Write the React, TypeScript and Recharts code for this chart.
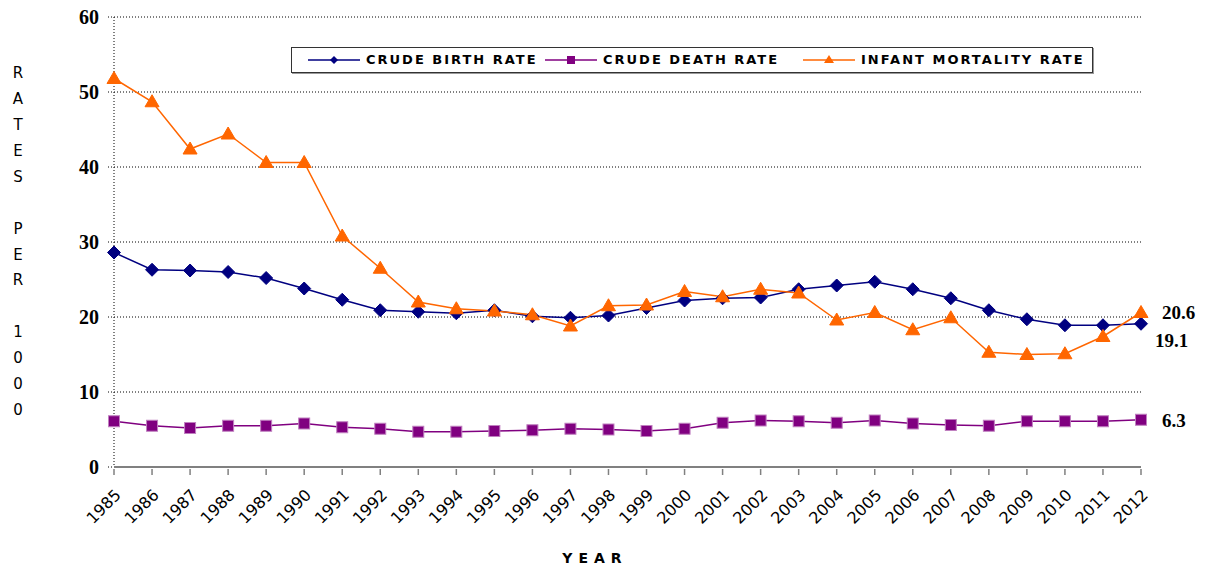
import React from "react";
import { LineChart, Line, XAxis, YAxis, CartesianGrid, LabelList } from "recharts";

const years = ["1985","1986","1987","1988","1989","1990","1991","1992","1993","1994","1995","1996","1997","1998","1999","2000","2001","2002","2003","2004","2005","2006","2007","2008","2009","2010","2011","2012"];
const birthRate = [28.6, 26.3, 26.2, 26.0, 25.2, 23.8, 22.3, 20.9, 20.7, 20.5, 20.9, 20.1, 19.9, 20.2, 21.2, 22.2, 22.5, 22.6, 23.7, 24.2, 24.7, 23.7, 22.5, 20.9, 19.7, 18.9, 18.9, 19.1];
const deathRate = [6.1, 5.5, 5.2, 5.5, 5.5, 5.8, 5.3, 5.1, 4.7, 4.7, 4.8, 4.9, 5.1, 5.0, 4.8, 5.1, 5.9, 6.2, 6.1, 5.9, 6.2, 5.8, 5.6, 5.5, 6.1, 6.1, 6.1, 6.3];
const infantMortality = [51.8, 48.7, 42.4, 44.4, 40.6, 40.6, 30.8, 26.5, 22.0, 21.1, 20.8, 20.3, 18.8, 21.5, 21.6, 23.4, 22.7, 23.7, 23.2, 19.6, 20.6, 18.3, 19.9, 15.3, 15.0, 15.1, 17.4, 20.6];
const yTicks = [0, 10, 20, 30, 40, 50, 60];
const yLabel = "RATES PER 1000";

const data = years.map((y, i) => ({
  year: y,
  birth: birthRate[i],
  death: deathRate[i],
  infant: infantMortality[i],
}));

const NAVY = "#000080";
const PURPLE = "#800080";
const ORANGE = "#FF6600";
const SANS = "'DejaVu Sans', Verdana, sans-serif";
const SERIF = "'Liberation Serif', 'Times New Roman', serif";

const Diamond = ({ cx, cy }: any) => (
  <polygon points={`${cx},${cy - 6.5} ${cx + 6.5},${cy} ${cx},${cy + 6.5} ${cx - 6.5},${cy}`} fill={NAVY} stroke={NAVY} />
);
const Square = ({ cx, cy }: any) => (
  <rect x={cx - 5.5} y={cy - 5.5} width={11} height={11} fill={PURPLE} stroke="#c080c0" strokeWidth={1} />
);
const Triangle = ({ cx, cy }: any) => (
  <polygon points={`${cx},${cy - 7} ${cx + 7},${cy + 5} ${cx - 7},${cy + 5}`} fill={ORANGE} stroke={ORANGE} />
);

const lastLabel = (dx: number, dy: number) => (props: any) => {
  const { x, y, value, index } = props;
  if (index !== years.length - 1) return null;
  return (
    <text x={x + dx} y={y + dy} dy="0.35em" fontFamily={SERIF} fontWeight="bold" fontSize={19} fill="#000">
      {value}
    </text>
  );
};

// y here is axis y + tickSize + tickMargin
const XTick = ({ x, y, payload }: any) => {
  const ax = x + 4;
  const ay = y + 15;
  return (
    <g>
      <line x1={x} y1={y - 8} x2={x} y2={y - 2} stroke="#808080" strokeWidth={1.5} />
      <text x={ax} y={ay} textAnchor="end" dy="0.35em" transform={`rotate(-45, ${ax}, ${ay})`} fontFamily={SANS} fontSize={16} fill="#000">
        {payload.value}
      </text>
    </g>
  );
};

const YTick = ({ x, y, payload }: any) => (
  <text x={x} y={y} textAnchor="end" dy="0.35em" fontFamily={SERIF} fontWeight="bold" fontSize={20} fill="#000">
    {payload.value}
  </text>
);

const legendItems = [
  { label: "CRUDE BIRTH RATE", color: NAVY, shape: "diamond", x: 308 },
  { label: "CRUDE DEATH RATE", color: PURPLE, shape: "square", x: 545 },
  { label: "INFANT MORTALITY RATE", color: ORANGE, shape: "triangle", x: 803 },
];

const LegendMark = ({ shape, color }: { shape: string; color: string }) => (
  <svg width={52} height={12} style={{ display: "block" }}>
    <line x1={0} y1={6} x2={52} y2={6} stroke={color} strokeWidth={1.5} />
    {shape === "diamond" && <polygon points="26,2 30,6 26,10 22,6" fill={color} />}
    {shape === "square" && <rect x={22} y={2} width={8} height={8} fill={color} />}
    {shape === "triangle" && <polygon points="26,1 31,9 21,9" fill={color} />}
  </svg>
);

export default function App() {
  return (
    <div style={{ position: "absolute", left: 0, top: 0, width: 1212, height: 567, background: "#fff" }}>
      <LineChart width={1212} height={567} data={data} margin={{ top: 17, right: 71, left: 0, bottom: 0 }}>
        <CartesianGrid vertical={false} stroke="#000" strokeDasharray="1 2" />
        <XAxis
          dataKey="year"
          height={100}
          padding={{ left: 0, right: 0 }}
          interval={0}
          axisLine={{ stroke: "#808080", strokeWidth: 2 }}
          tickLine={false}
          tickSize={8}
          tick={<XTick />}
          label={{
            content: () => (
              <text x={595} y={558} dy="0.35em" textAnchor="middle" fontFamily={SANS} fontWeight="bold" fontSize={14} letterSpacing={6} fill="#000">
                YEAR
              </text>
            ),
          }}
        />
        <YAxis
          width={114}
          domain={[0, 60]}
          ticks={yTicks}
          interval={0}
          axisLine={{ stroke: "#000", strokeDasharray: "1 2" }}
          tickLine={{ stroke: "#000", strokeDasharray: "1 2" }}
          tickSize={6}
          tickMargin={9}
          tick={<YTick />}
          label={{
            content: () => (
              <g>
                {yLabel.split("").map((ch, i) => (
                  <text key={i} x={18} y={73 + i * 25.9} dy="0.35em" textAnchor="middle" fontFamily={SANS} fontSize={15} fill="#000">
                    {ch}
                  </text>
                ))}
              </g>
            ),
          }}
        />
        <Line type="linear" dataKey="birth" name="CRUDE BIRTH RATE" stroke={NAVY} strokeWidth={1.5} dot={(p: any) => <Diamond key={p.index} {...p} />} isAnimationActive={false}>
          <LabelList dataKey="birth" content={lastLabel(14, 17)} />
        </Line>
        <Line type="linear" dataKey="death" name="CRUDE DEATH RATE" stroke={PURPLE} strokeWidth={1.5} dot={(p: any) => <Square key={p.index} {...p} />} isAnimationActive={false}>
          <LabelList dataKey="death" content={lastLabel(21, 1)} />
        </Line>
        <Line type="linear" dataKey="infant" name="INFANT MORTALITY RATE" stroke={ORANGE} strokeWidth={1.5} dot={(p: any) => <Triangle key={p.index} {...p} />} isAnimationActive={false}>
          <LabelList dataKey="infant" content={lastLabel(21, 0)} />
        </Line>
      </LineChart>
      <div
        style={{
          position: "absolute",
          left: 291,
          top: 47,
          width: 802,
          height: 26,
          border: "1px solid #333",
          boxShadow: "1px 1px 0 #999",
          boxSizing: "border-box",
          background: "#fff",
        }}
      >
        {legendItems.map((it) => (
          <div key={it.label} style={{ position: "absolute", left: it.x - 292, top: 6, display: "flex", alignItems: "center", gap: 6 }}>
            <LegendMark shape={it.shape} color={it.color} />
            <span style={{ fontFamily: SANS, fontWeight: "bold", fontSize: 13, letterSpacing: 2, color: "#000", lineHeight: "12px" }}>{it.label}</span>
          </div>
        ))}
      </div>
    </div>
  );
}
